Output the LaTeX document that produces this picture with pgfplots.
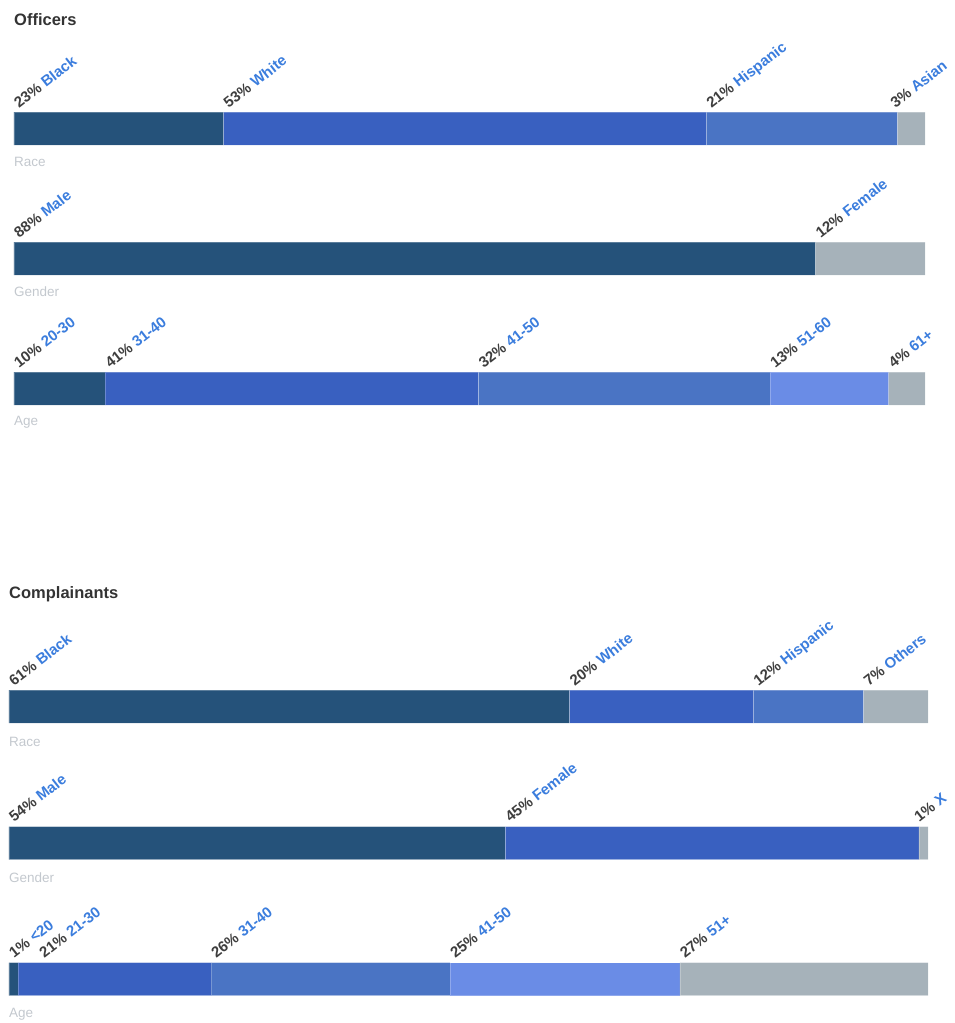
\documentclass[border=0pt]{standalone}
\usepackage{pgfplots}
\pgfplotsset{compat=1.18}
\usepackage{fontspec}
\setmainfont{Liberation Sans}

\definecolor{segA}{HTML}{25527A}
\definecolor{segB}{HTML}{3960C0}
\definecolor{segC}{HTML}{4A74C4}
\definecolor{segD}{HTML}{6A8CE6}
\definecolor{segE}{HTML}{A6B2BA}
\definecolor{pctgray}{HTML}{3E3E3E}
\definecolor{catblue}{HTML}{3B7DDD}
\definecolor{titlegray}{HTML}{333333}
\definecolor{subgray}{HTML}{C3C8CE}

\newcommand{\lab}[2]{\textcolor{pctgray}{#1\%}\ \textcolor{catblue}{#2}}

\pgfplotsset{
  panel/.style={
    hide axis, clip=false, scale only axis, enlargelimits=false,
    xmin=0, xmax=100,
  },
  seg/.style={xbar stacked, bar width=33pt, bar shift=0pt, draw=white, draw opacity=0.25, line width=0.5pt, fill=#1},
  labels/.style={
    stack plots=false, draw=none, mark=none, only marks,
    nodes near coords, point meta=explicit symbolic,
    every node near coord/.style={
      anchor=base west, inner sep=0pt, xshift=5pt, yshift=3pt, rotate=38,
      font=\fontsize{15}{17}\selectfont\bfseries},
  },
}
\tikzset{
  sublabel/.style={anchor=west, inner sep=0pt, text=subgray, font=\fontsize{13.5}{15}\selectfont},
  paneltitle/.style={anchor=west, inner sep=0pt, text=titlegray, font=\fontsize{16.5}{19}\selectfont\bfseries},
}

\begin{document}
\begin{tikzpicture}
\useasboundingbox (0,0) rectangle (955pt,-1023pt);

% ---------------- Officers ----------------
\begin{axis}[panel, at={(14pt,-430pt)}, anchor=south west,
  width=911pt, height=430pt, ymin=-430, ymax=0]
% race / gender / age rows at y = -128.5, -258.5, -388.5
\addplot[seg=segA] coordinates {(23,-128.5) (88,-258.5) (10,-388.5)};
\addplot[seg=segB] coordinates {(53,-128.5) (0,-258.5)  (41,-388.5)};
\addplot[seg=segC] coordinates {(21,-128.5) (0,-258.5)  (32,-388.5)};
\addplot[seg=segD] coordinates {(0,-128.5)  (0,-258.5)  (13,-388.5)};
\addplot[seg=segE] coordinates {(3,-128.5)  (12,-258.5) (4,-388.5)};
\addplot[labels] coordinates {
  (0,-112)  [{\lab{23}{Black}}]
  (23,-112) [{\lab{53}{White}}]
  (76,-112) [{\lab{21}{Hispanic}}]
  (96.2,-112) [{\lab{3}{Asian}}]
  (0,-242)  [{\lab{88}{Male}}]
  (88,-242) [{\lab{12}{Female}}]
  (0,-372)  [{\lab{10}{20-30}}]
  (10,-372) [{\lab{41}{31-40}}]
  (51,-372) [{\lab{32}{41-50}}]
  (83,-372) [{\lab{13}{51-60}}]
  (96,-372) [{\lab{4}{61+}}]
};
\node[paneltitle] at (axis cs:0,-20) {Officers};
\node[sublabel] at (axis cs:0,-162) {Race};
\node[sublabel] at (axis cs:0,-292) {Gender};
\node[sublabel] at (axis cs:0,-422) {Age};
\end{axis}

% ---------------- Complainants ----------------
\begin{axis}[panel, at={(9pt,-1023pt)}, anchor=south west,
  width=919pt, height=463pt, ymin=-1023, ymax=-560]
% race / gender / age rows at y = -706.5, -843, -979
\addplot[seg=segA] coordinates {(61,-706.5) (54,-843) (1,-979)};
\addplot[seg=segB] coordinates {(20,-706.5) (45,-843) (21,-979)};
\addplot[seg=segC] coordinates {(12,-706.5) (0,-843)  (26,-979)};
\addplot[seg=segD] coordinates {(0,-706.5)  (0,-843)  (25,-979)};
\addplot[seg=segE] coordinates {(7,-706.5)  (1,-843)  (27,-979)};
\addplot[labels] coordinates {
  (0,-690)  [{\lab{61}{Black}}]
  (61,-690) [{\lab{20}{White}}]
  (81,-690) [{\lab{12}{Hispanic}}]
  (93,-690) [{\lab{7}{Others}}]
  (0,-826)  [{\lab{54}{Male}}]
  (54,-826) [{\lab{45}{Female}}]
  (98.5,-826) [{\lab{1}{X}}]
  (0,-962)  [{\lab{1}{<20}}]
  (3.3,-962) [{\lab{21}{21-30}}]
  (22,-962) [{\lab{26}{31-40}}]
  (48,-962) [{\lab{25}{41-50}}]
  (73,-962) [{\lab{27}{51+}}]
};
\node[paneltitle] at (axis cs:0,-594) {Complainants};
\node[sublabel] at (axis cs:0,-742) {Race};
\node[sublabel] at (axis cs:0,-878) {Gender};
\node[sublabel] at (axis cs:0,-1014) {Age};
\end{axis}
\end{tikzpicture}
\end{document}
